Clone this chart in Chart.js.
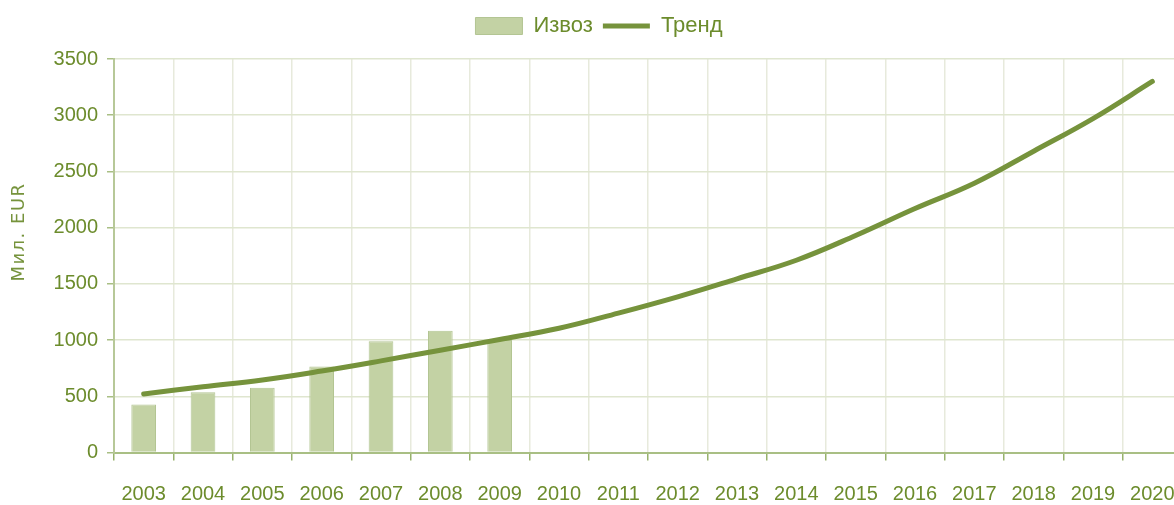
<!DOCTYPE html>
<html>
<head>
<meta charset="utf-8">
<script src="https://cdn.jsdelivr.net/npm/chart.js@4/dist/chart.umd.min.js"></script>
<style>
  html, body { margin: 0; padding: 0; background: #fff; overflow: hidden; }
  canvas { display: block; }
</style>
</head>
<body>
<canvas id="export-chart" width="1182" height="505"></canvas>
<script>
var years = ["2003", "2004", "2005", "2006", "2007", "2008", "2009", "2010", "2011",
    "2012", "2013", "2014", "2015", "2016", "2017", "2018", "2019", "2020"];
var exportValues = [428, 537, 575, 765, 990, 1082, 1000,
    null, null, null, null, null, null, null, null, null, null, null];
var trendValues = [520, 585, 645, 725, 815, 910, 1005, 1105, 1240,
    1385, 1545, 1710, 1930, 2170, 2395, 2680, 2970, 3300];
var yTicks = [0, 500, 1000, 1500, 2000, 2500, 3000, 3500];
var axisTitle = "Мил. EUR";

var green = "#76933c";
var textGreen = "#6c8c2c";
var sans = "'Liberation Sans', Arial, sans-serif";

// legend sits a bit higher than the plot, and slightly right of centre
var legendGap = {
    id: "legendGap",
    beforeInit: function (chart) {
        var fit = chart.legend.fit;
        chart.legend.fit = function () {
            fit.bind(chart.legend)();
            this.height += 12;
        };
    },
    afterLayout: function (chart) {
        chart.legend.left += 8;
        chart.legend.right += 8;
    }
};

// y axis title is not centred on the axis in the original
var sideTitle = {
    id: "sideTitle",
    afterDraw: function (chart) {
        var ctx = chart.ctx;
        ctx.save();
        ctx.translate(19, 232);
        ctx.rotate(-Math.PI / 2);
        ctx.font = "18px 'DejaVu Sans'";
        if ("letterSpacing" in ctx) ctx.letterSpacing = "1.5px";
        ctx.fillStyle = green;
        ctx.textAlign = "center";
        ctx.textBaseline = "middle";
        ctx.fillText(axisTitle, 0, 0);
        ctx.restore();
    }
};

document.addEventListener("DOMContentLoaded", function () {
    var ctx = document.getElementById("export-chart").getContext("2d");
    new Chart(ctx, {
        type: "bar",
        data: {
            labels: years,
            datasets: [{
                type: "bar",
                label: "Извоз",
                data: exportValues,
                backgroundColor: "#c3d2a4",
                borderColor: "#b3c593",
                borderWidth: 1,
                categoryPercentage: 0.8,
                barPercentage: 0.52,
                pointStyle: "rect",
                order: 1
            }, {
                type: "line",
                label: "Тренд",
                data: trendValues,
                borderColor: green,
                backgroundColor: green,
                borderWidth: 5,
                borderCapStyle: "round",
                pointRadius: 0,
                pointStyle: "line",
                tension: 0.4,
                order: 0
            }]
        },
        options: {
            responsive: false,
            animation: false,
            layout: { padding: { top: 5, left: 0, right: 0, bottom: 0 } },
            plugins: {
                tooltip: { enabled: false },
                legend: {
                    position: "top",
                    labels: {
                        color: textGreen,
                        font: { family: sans, size: 22 },
                        usePointStyle: true,
                        pointStyleWidth: 47,
                        boxHeight: 17,
                        padding: 10,
                        sort: function (a, b) { return a.datasetIndex - b.datasetIndex; }
                    }
                }
            },
            scales: {
                x: {
                    offset: true,
                    afterFit: function (scale) {
                        scale.height = 52.5;
                        scale.paddingLeft = 0;
                        scale.paddingRight = 0;
                    },
                    grid: {
                        offset: true,
                        color: "#e7eadc",
                        tickColor: "#98b26c",
                        tickLength: 8,
                        lineWidth: 1.5
                    },
                    border: { color: "#a9bf84", width: 2 },
                    ticks: {
                        color: textGreen,
                        font: { family: sans, size: 20, lineHeight: 0.9 },
                        padding: 25,
                        maxRotation: 0,
                        autoSkip: false
                    }
                },
                y: {
                    min: 0,
                    max: 3500,
                    afterFit: function (scale) { scale.width = 114; },
                    afterBuildTicks: function (scale) {
                        scale.ticks = yTicks.map(function (v) { return { value: v }; });
                    },
                    grid: {
                        color: "#dfe6cf",
                        tickColor: "#a9bf84",
                        tickLength: 7,
                        lineWidth: 1.5
                    },
                    border: { color: "#b7c898", width: 2 },
                    ticks: {
                        color: textGreen,
                        font: { family: sans, size: 20 },
                        padding: 9,
                        callback: function (v) { return String(v); }
                    }
                }
            }
        },
        plugins: [legendGap, sideTitle]
    });
});
</script>
</body>
</html>
